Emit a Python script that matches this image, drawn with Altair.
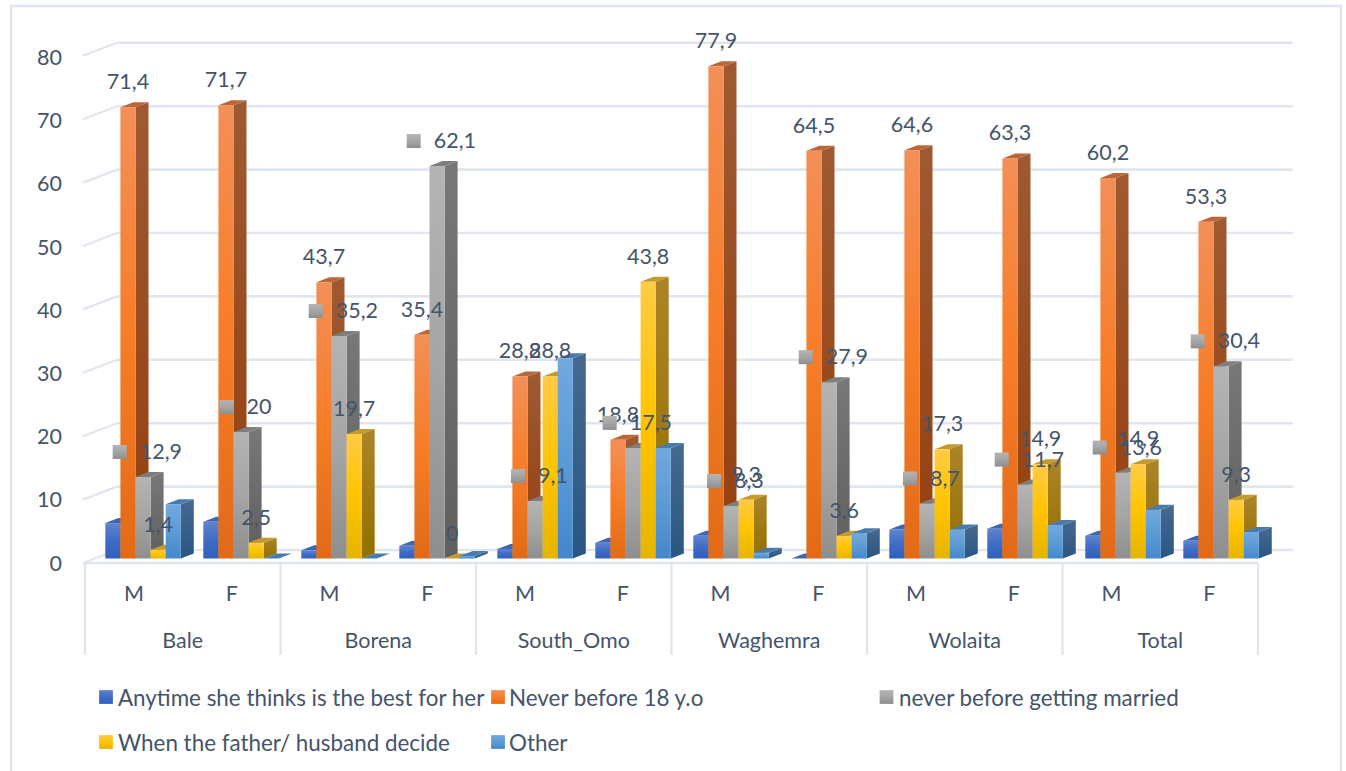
import altair as alt
import pandas as pd

# ---- values -------------------------------------------------------------
regions = ["Bale", "Borena", "South_Omo", "Waghemra", "Wolaita", "Total"]
sexes = ["M", "F"]
series = [
    "Anytime she thinks is the best for her",
    "Never before 18 y.o",
    "never before getting married",
    "When the father/ husband decide",
    "Other",
]
anytime = [5.6, 5.8, 1.3, 2.0, 1.5, 2.5, 3.6, 0.0, 4.6, 4.7, 3.6, 2.8]
never_18 = [71.4, 71.7, 43.7, 35.4, 28.8, 18.8, 77.9, 64.5, 64.6, 63.3, 60.2, 53.3]
never_married = [12.9, 20, 35.2, 62.1, 9.1, 17.5, 8.3, 27.9, 8.7, 11.7, 13.6, 30.4]
father_decides = [1.4, 2.5, 19.7, 0, 28.8, 43.8, 9.3, 3.6, 17.3, 14.9, 14.9, 9.3]
other = [8.6, 0.0, 0.0, 0.4, 31.7, 17.5, 0.9, 4.0, 4.6, 5.3, 7.7, 4.2]
all_values = [anytime, never_18, never_married, father_decides, other]
value_ticks = [0, 10, 20, 30, 40, 50, 60, 70, 80]

# ---- chart geometry -----------------------------------------------------
W, H = 1346, 771
UNIT = 6.32          # pixels per percentage point
BASE = 558.5         # pixel row of the value zero on the front of the bars
BAR_W = 15.1
BAR_START = 105.3
BAR_STEP = 98.0
DEPTH_X = 13.0       # oblique depth of a bar
DEPTH_Y = 5.0 / UNIT
TEXT = "#44546A"
LINE = "#E1E5ED"
FONT = "Lato"
FONT_SIZE = 21.5
LEGEND_SIZE = 22.4


def row(px):
    """Convert a pixel row into the value scale."""
    return (BASE - px) / UNIT


def vgrad(*colors):
    n = len(colors) - 1
    return alt.LinearGradient(
        gradient="linear", x1=0, x2=0, y1=0, y2=1,
        stops=[alt.GradientStop(color=c, offset=i / n) for i, c in enumerate(colors)],
    )


front_fill = [
    vgrad("#5F84CF", "#3F6CC4", "#2F5FBE"),
    vgrad("#F38F57", "#F77D28", "#E26A16"),
    vgrad("#B4B4B4", "#A5A5A5", "#8E8E8E"),
    vgrad("#FFCB45", "#FFC400", "#E6B400"),
    vgrad("#72A8E0", "#5B9BD5", "#4687CC"),
]
side_fill = [
    vgrad("#3D5F9E", "#2A4E8C"),
    vgrad("#9E5A32", "#963F0E"),
    vgrad("#787878", "#5F5F5F"),
    vgrad("#AC8428", "#927000"),
    vgrad("#47698F", "#295683"),
]
top_fill = ["#3F66B4", "#BC6638", "#7E7E7E", "#C49A2C", "#487CAE"]

x_scale = alt.Scale(domain=[0, W], range=[0, W], nice=False, zero=False)
y_scale = alt.Scale(domain=[row(H), row(0)], range=[H, 0], nice=False, zero=False)
X = alt.X("x:Q", scale=x_scale, axis=None)
X2 = alt.X2("x2:Q")
Y = alt.Y("y:Q", scale=y_scale, axis=None, stack=None)
Y2 = alt.Y2("y2:Q")

# ---- furniture: frame, walls, floor and category dividers -----------------
GRID_L, GRID_R = 117, 1293
AXIS_L, AXIS_R = 85, 1258


def back_wall(v):
    return row(550 - 6.34 * v)


def front_edge(v):
    return row(563 - 6.34 * v)


rules_h = pd.DataFrame(
    [{"x": GRID_L, "x2": GRID_R, "y": back_wall(v)} for v in value_ticks]
    + [{"x": AXIS_L - 2, "x2": AXIS_R, "y": front_edge(0)}]
)
dividers = [AXIS_L + (AXIS_R - AXIS_L) * k / 6 for k in range(7)]
rules_v = pd.DataFrame([{"x": d, "y": row(563), "y2": row(655)} for d in dividers])
diagonals = pd.DataFrame(
    [{"x": 83, "y": front_edge(v), "level": v} for v in value_ticks]
    + [{"x": GRID_L, "y": back_wall(v), "level": v} for v in value_ticks]
)
frame_v = pd.DataFrame([{"x": f, "y": row(6), "y2": row(H)} for f in (11, 1341)])
frame_h = pd.DataFrame([{"x": 10, "x2": 1342, "y": row(6)}])

layers = [
    alt.Chart(frame_v).mark_rule(color=LINE, strokeWidth=2.5).encode(x=X, y=Y, y2=Y2),
    alt.Chart(frame_h).mark_rule(color=LINE, strokeWidth=2.5).encode(x=X, x2=X2, y=Y),
    alt.Chart(rules_h).mark_rule(color=LINE, strokeWidth=2.6).encode(x=X, x2=X2, y=Y),
    alt.Chart(rules_v).mark_rule(color=LINE, strokeWidth=2.2).encode(x=X, y=Y, y2=Y2),
    alt.Chart(diagonals).mark_line(color=LINE, strokeWidth=2.2).encode(
        x=X, y=Y, detail="level:N"
    ),
]

# ---- bars: an oblique side, a top and a front face for every value --------
for j, values in enumerate(all_values):
    fronts, sides, tops = [], [], []
    for i, v in enumerate(values):
        left = BAR_START + i * BAR_STEP + j * BAR_W
        right = left + BAR_W
        key = f"{j}-{i}"
        fronts.append({"x": left, "x2": right, "y": 0, "y2": v})
        sides += [
            {"x": right, "y": 0, "y2": v, "bar": key},
            {"x": right + DEPTH_X, "y": DEPTH_Y, "y2": v + DEPTH_Y, "bar": key},
        ]
        tops += [
            {"x": left, "y": v, "y2": v, "bar": key},
            {"x": left + DEPTH_X, "y": v, "y2": v + DEPTH_Y, "bar": key},
            {"x": right, "y": v, "y2": v + DEPTH_Y, "bar": key},
            {"x": right + DEPTH_X, "y": v + DEPTH_Y, "y2": v + DEPTH_Y, "bar": key},
        ]
    layers.append(
        alt.Chart(pd.DataFrame(sides))
        .mark_area(color=side_fill[j], interpolate="linear")
        .encode(x=X, y=Y, y2=Y2, detail="bar:N")
    )
    layers.append(
        alt.Chart(pd.DataFrame(tops))
        .mark_area(color=top_fill[j], interpolate="linear")
        .encode(x=X, y=Y, y2=Y2, detail="bar:N")
    )
    nonzero = pd.DataFrame([f for f in fronts if f["y2"] > 0])
    layers.append(
        alt.Chart(nonzero)
        .mark_bar(color=front_fill[j])
        .encode(x=X, x2=X2, y=Y, y2=Y2)
    )


def decimal_comma(v):
    return f"{v:g}".replace(".", ",")


def text_layer(rows, align, size=FONT_SIZE, nudge=1.5):
    return (
        alt.Chart(pd.DataFrame(rows))
        .mark_text(
            font=FONT, fontSize=size, color=TEXT, align=align, baseline="middle", dy=nudge
        )
        .encode(x=X, y=Y, text="label:N")
    )


# ---- data labels ---------------------------------------------------------
LABEL_LIFT = 25 / UNIT
plain_labels = []
for j in (1, 3):
    for i, v in enumerate(all_values[j]):
        plain_labels.append(
            {
                "x": BAR_START + i * BAR_STEP + (j + 0.5) * BAR_W,
                "y": v + LABEL_LIFT,
                "label": decimal_comma(v),
            }
        )
layers.append(text_layer(plain_labels, "center", nudge=1))

# The "never before getting married" labels carry a small legend square.
CHAR_W = {",": 5.2}
squares, keyed_labels = [], []
for i, v in enumerate(never_married):
    text = decimal_comma(v)
    width = sum(CHAR_W.get(c, 12.5) for c in text)
    centre = BAR_START + i * BAR_STEP + 2.5 * BAR_W + 4.5
    start = centre - (14 + 13 + width) / 2
    squares.append({"x": start + 7, "y": v + LABEL_LIFT})
    keyed_labels.append({"x": start + 27, "y": v + LABEL_LIFT, "label": text})
layers.append(
    alt.Chart(pd.DataFrame(squares))
    .mark_square(size=196, color=front_fill[2], opacity=1)
    .encode(x=X, y=Y)
)
layers.append(text_layer(keyed_labels, "left", nudge=1))

# ---- value labels along the front edge of the floor -----------------------
layers.append(
    text_layer(
        [{"x": 62, "y": row(563 - UNIT * v), "label": str(v)} for v in value_ticks],
        "right",
    )
)

# ---- category labels ------------------------------------------------------
sex_rows = [
    {"x": 134 + k * (AXIS_R - AXIS_L) / 12, "y": row(593), "label": sexes[k % 2]}
    for k in range(12)
]
region_rows = [
    {"x": (dividers[k] + dividers[k + 1]) / 2, "y": row(640), "label": regions[k]}
    for k in range(6)
]
layers.append(text_layer(sex_rows + region_rows, "center"))

# ---- legend ---------------------------------------------------------------
legend_slots = [(106, 697), (498, 697), (886.5, 697), (106, 742), (498, 742)]
text_starts = [118, 509, 899, 118, 509]
for j, (lx, ly) in enumerate(legend_slots):
    layers.append(
        alt.Chart(pd.DataFrame([{"x": lx, "y": row(ly)}]))
        .mark_square(size=190, color=front_fill[j], opacity=1)
        .encode(x=X, y=Y)
    )
legend_rows = [
    {"x": tx, "y": row(ly), "label": s}
    for (_, ly), tx, s in zip(legend_slots, text_starts, series)
]
layers.append(text_layer(legend_rows, "left", LEGEND_SIZE))

chart = (
    alt.layer(*layers)
    .properties(
        width=W,
        height=H,
        padding=0,
        autosize=alt.AutoSizeParams(type="none"),
        background="white",
    )
    .configure_view(stroke=None)
)

chart.save("out.html", embed_options={"renderer": "svg", "actions": False})
